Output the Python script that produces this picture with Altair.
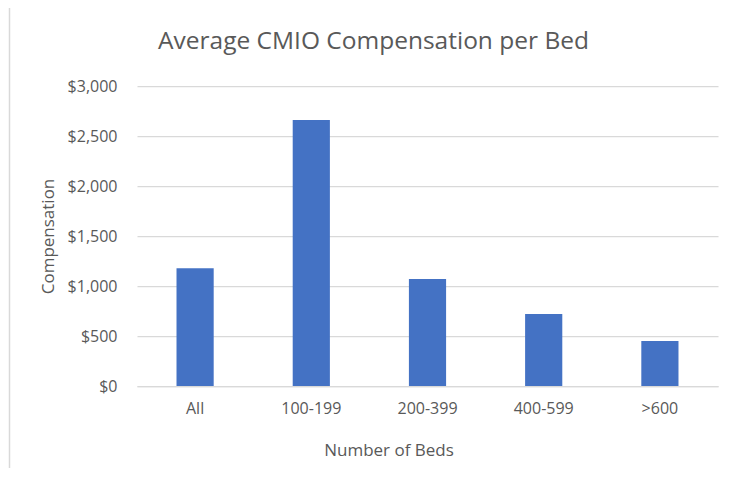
import altair as alt
import pandas as pd

categories = ["All", "100-199", "200-399", "400-599", ">600"]
values = [1177, 2660, 1070, 720, 450]
y_ticks = [0, 500, 1000, 1500, 2000, 2500, 3000]

df = pd.DataFrame({"beds": categories, "comp": values})

TEXT = "#595959"
GRID = "#d9d9d9"
FONT = "Open Sans"

bars = alt.Chart(df).mark_bar(color="#4472c4").encode(
    x=alt.X(
        "beds:N",
        sort=categories,
        scale=alt.Scale(paddingInner=0.68, paddingOuter=0.34),
        axis=alt.Axis(
            title="Number of Beds",
            labelAngle=0,
            grid=False,
            ticks=False,
            tickSize=0,
            labelPadding=14,
            domainColor=GRID,
            domainWidth=1.25,
            titleX=251.5,
            titleY=69,
            titleBaseline="alphabetic",
        ),
    ),
    y=alt.Y(
        "comp:Q",
        scale=alt.Scale(domain=[0, 3000], nice=False),
        axis=alt.Axis(
            title="Compensation",
            values=y_ticks,
            format="$,.0f",
            domain=False,
            ticks=False,
            tickSize=0,
            labelPadding=20,
            gridColor=GRID,
            gridWidth=1.25,
            titleX=-89,
            titleY=150,
            titleAngle=270,
            titleAlign="center",
            titleBaseline="middle",
        ),
    ),
)

border = alt.Chart(alt.Data(values=[{}])).mark_rule(color=GRID, strokeWidth=1.5).encode(
    x=alt.value(-127.5), y=alt.value(-78), y2=alt.value(382)
)

chart = (
    alt.layer(bars, border)
    .properties(
        width=581,
        height=300,
        autosize=alt.AutoSizeParams(type="none"),
        padding={"left": 129, "top": 78, "right": 14, "bottom": 82},
        background="white",
        title=alt.TitleParams(
            "Average CMIO Compensation per Bed",
            font=FONT,
            fontSize=24.5,
            fontWeight="normal",
            color=TEXT,
            anchor="middle",
            dx=-54,
            dy=66,
            offset=0,
            baseline="alphabetic",
        ),
    )
    .configure_view(stroke=None)
    .configure_axis(
        labelFont=FONT,
        labelFontSize=16,
        labelColor=TEXT,
        titleFont=FONT,
        titleFontSize=17,
        titleFontWeight="normal",
        titleColor=TEXT,
    )
)

chart.save("out.html", embed_options={"renderer": "svg", "actions": False})
